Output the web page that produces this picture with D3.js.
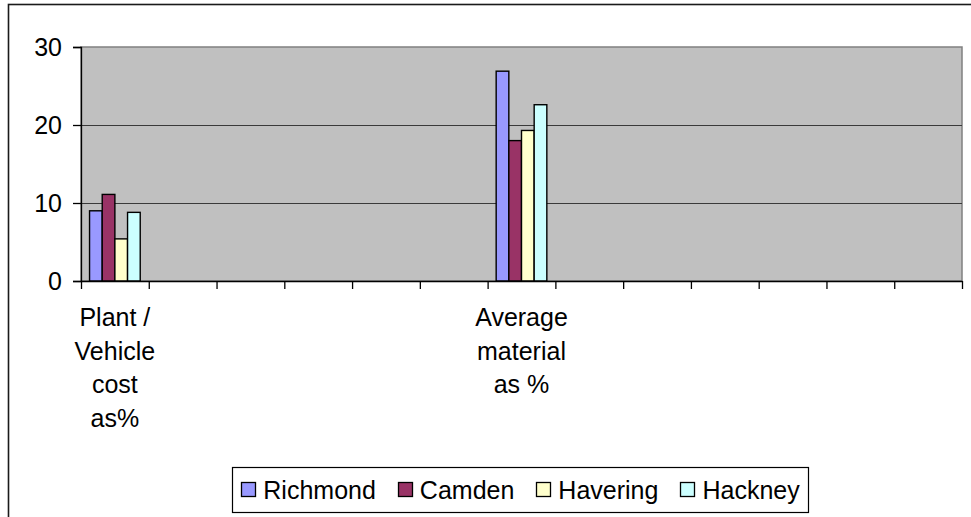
<!DOCTYPE html>
<html>
<head>
<meta charset="utf-8">
<script src="https://cdn.jsdelivr.net/npm/d3@7"></script>
<style>
  html, body { margin: 0; padding: 0; background: #fff; }
  svg { display: block; }
  text { font-family: "Liberation Sans", Arial, sans-serif; fill: #000; }
</style>
</head>
<body>
<svg id="chart" width="971" height="517"></svg>
<script>
// Category slots along the x axis (only two carry labels); "\n" marks a line break
const categories = [
  "Plant /\nVehicle\ncost\nas%", "", "", "", "", "",
  "Average\nmaterial\nas %", "", "", "", "", "", ""
];
const seriesNames = ["Richmond", "Camden", "Havering", "Hackney"];
const seriesColors = ["#9999FF", "#993366", "#FFFFCC", "#CCFFFF"];
// Values per category slot (null = no bar)
const richmond = [9.0, null, null, null, null, null, 26.9, null, null, null, null, null, null];
const camden   = [11.1, null, null, null, null, null, 18.0, null, null, null, null, null, null];
const havering = [5.4, null, null, null, null, null, 19.3, null, null, null, null, null, null];
const hackney  = [8.8, null, null, null, null, null, 22.6, null, null, null, null, null, null];
const yTicks = [0, 10, 20, 30];

const seriesValues = [richmond, camden, havering, hackney];

const svg = d3.select("#chart");
const plot = { left: 81, right: 962, top: 47, bottom: 281 };
const fontSize = 25;

// Outer chart frame
svg.append("rect")
  .attr("x", 8.5).attr("y", 4.5)
  .attr("width", 1000).attr("height", 600)
  .attr("fill", "none").attr("stroke", "#1a1a1a").attr("stroke-width", 1.6);

const idx = d3.range(categories.length);
const x0 = d3.scaleBand().domain(idx).range([plot.left, plot.right]).paddingInner(0).paddingOuter(0);
const x1 = d3.scaleBand().domain(seriesNames).range([0, x0.bandwidth()]).paddingInner(0).paddingOuter(0.675);
const y = d3.scaleLinear().domain([0, 30]).range([plot.bottom, plot.top]);
const color = d3.scaleOrdinal().domain(seriesNames).range(seriesColors);

// Plot area background
svg.append("rect")
  .attr("x", plot.left).attr("y", plot.top)
  .attr("width", plot.right - plot.left).attr("height", plot.bottom - plot.top)
  .attr("fill", "#C0C0C0").attr("stroke", "#808080").attr("stroke-width", 1.5);

// Horizontal gridlines
svg.append("g")
  .selectAll("line")
  .data(yTicks.filter(t => t > 0 && t < 30))
  .join("line")
  .attr("x1", plot.left).attr("x2", plot.right)
  .attr("y1", d => Math.round(y(d)) + 0.5).attr("y2", d => Math.round(y(d)) + 0.5)
  .attr("stroke", "#3a3a3a").attr("stroke-width", 1);

// Bars
const rows = [];
idx.forEach(i => {
  seriesNames.forEach((s, k) => {
    const v = seriesValues[k][i];
    if (v != null) rows.push({ i, s, v });
  });
});
svg.append("g")
  .selectAll("rect")
  .data(rows)
  .join("rect")
  .attr("x", d => x0(d.i) + x1(d.s))
  .attr("y", d => y(d.v))
  .attr("width", x1.bandwidth())
  .attr("height", d => y(0) - y(d.v))
  .attr("fill", d => color(d.s))
  .attr("stroke", "#000").attr("stroke-width", 1.4);

// Y axis
const yAxis = svg.append("g")
  .attr("transform", `translate(${plot.left},0)`)
  .call(d3.axisLeft(y).tickValues(yTicks).tickFormat(d3.format("d")).tickSize(8).tickPadding(11));
yAxis.select(".domain").attr("stroke", "#000").attr("stroke-width", 1.3);
yAxis.selectAll(".tick line").attr("stroke", "#000").attr("stroke-width", 1.3);
yAxis.selectAll(".tick text")
  .style("font-family", '"Liberation Sans", Arial, sans-serif')
  .style("font-size", fontSize + "px").attr("fill", "#000");

// X axis: tick marks at every category boundary
const xb = d3.scaleLinear().domain([0, categories.length]).range([plot.left, plot.right]);
const xAxis = svg.append("g")
  .attr("transform", `translate(0,${plot.bottom})`)
  .call(d3.axisBottom(xb).tickValues(d3.range(categories.length + 1)).tickFormat("").tickSize(8).tickSizeOuter(0));
xAxis.select(".domain").attr("stroke", "#000").attr("stroke-width", 1.5);
xAxis.selectAll(".tick line").attr("stroke", "#000").attr("stroke-width", 1.3);

// Category labels (multi-line, centred under each slot)
const labelG = svg.append("g");
idx.forEach(i => {
  if (!categories[i]) return;
  const lines = categories[i].split("\n");
  const t = labelG.append("text")
    .attr("text-anchor", "middle")
    .style("font-size", fontSize + "px");
  lines.forEach((ln, j) => {
    t.append("tspan")
      .attr("x", x0(i) + x0.bandwidth() / 2)
      .attr("y", 326 + j * 33.5)
      .text(ln);
  });
});

// Legend
const legend = { x: 232.5, y: 467.5, w: 576, h: 45 };
svg.append("rect")
  .attr("x", legend.x).attr("y", legend.y)
  .attr("width", legend.w).attr("height", legend.h)
  .attr("fill", "#fff").attr("stroke", "#000").attr("stroke-width", 1.2);

const sw = 14, swGap = 8, itemGap = 22;
const items = svg.append("g");
const measures = seriesNames.map(n => {
  const tmp = items.append("text").style("font-size", fontSize + "px").text(n);
  const w = tmp.node().getComputedTextLength();
  tmp.remove();
  return w;
});
const total = d3.sum(measures) + seriesNames.length * (sw + swGap) + (seriesNames.length - 1) * itemGap;
let cx = legend.x + (legend.w - total) / 2;
const cy = legend.y + legend.h / 2;
seriesNames.forEach((n, k) => {
  items.append("rect")
    .attr("x", Math.round(cx) + 0.5).attr("y", Math.round(cy - sw / 2) - 0.5)
    .attr("width", sw).attr("height", sw)
    .attr("fill", color(n)).attr("stroke", "#000").attr("stroke-width", 1.3);
  items.append("text")
    .attr("x", cx + sw + swGap).attr("y", cy)
    .attr("dy", "0.36em")
    .style("font-size", fontSize + "px")
    .text(n);
  cx += sw + swGap + measures[k] + itemGap;
});
</script>
</body>
</html>
